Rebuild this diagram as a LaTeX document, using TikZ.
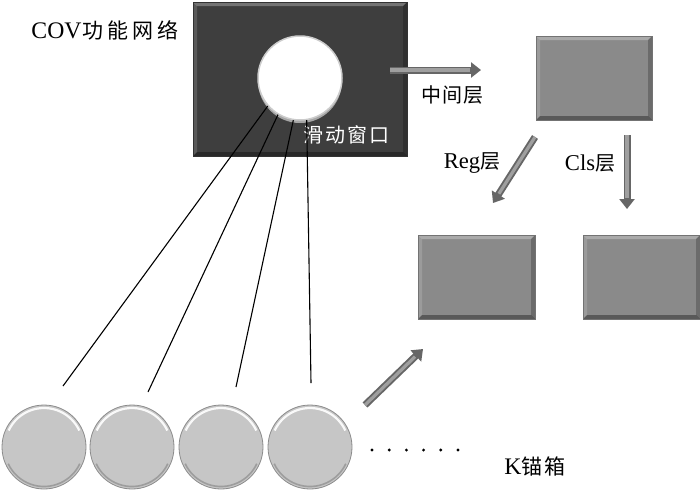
\documentclass[tikz,border=0pt]{standalone}
\usepackage{fontspec}
\setmainfont{Liberation Serif}[Scale=1.13]
\newfontfamily\cjk{Noto Sans CJK SC}
\usetikzlibrary{arrows.meta,shadows,calc}
\definecolor{darkbox}{HTML}{3E3E3E}
\definecolor{midbox}{HTML}{8A8A8A}
\definecolor{ball}{HTML}{C6C6C6}
\definecolor{arrowgray}{HTML}{8E8E8E}
\tikzset{
  bevel/.style={path picture={
    \fill[white,opacity=.28] (path picture bounding box.north west) -- (path picture bounding box.north east)
      -- ([xshift=-4pt,yshift=-4pt]path picture bounding box.north east) -- ([xshift=4pt,yshift=-4pt]path picture bounding box.north west) -- cycle;
    \fill[white,opacity=.15] (path picture bounding box.north west) -- (path picture bounding box.south west)
      -- ([xshift=4pt,yshift=4pt]path picture bounding box.south west) -- ([xshift=4pt,yshift=-4pt]path picture bounding box.north west) -- cycle;
    \fill[black,opacity=.35] (path picture bounding box.south west) -- (path picture bounding box.south east)
      -- ([xshift=-4pt,yshift=4pt]path picture bounding box.south east) -- ([xshift=4pt,yshift=4pt]path picture bounding box.south west) -- cycle;
    \fill[black,opacity=.22] (path picture bounding box.north east) -- (path picture bounding box.south east)
      -- ([xshift=-4pt,yshift=4pt]path picture bounding box.south east) -- ([xshift=-4pt,yshift=-4pt]path picture bounding box.north east) -- cycle;
  }},
  darkrect/.style={rectangle, inner sep=0pt, fill=darkbox, draw=black!80, line width=0.6pt, bevel},
  grayrect/.style={rectangle, inner sep=0pt, fill=midbox, draw=black!55, line width=0.6pt, bevel,
    minimum width=117pt, minimum height=84pt},
  anchorball/.style={circle, inner sep=0pt, minimum size=84pt, fill=ball, draw=black!45, line width=0.8pt,
    path picture={
      \draw[white,line width=2.2pt,opacity=.9] ([shift={(155:39pt)}]path picture bounding box.center) arc[start angle=155,end angle=25,radius=39pt];
      \draw[black!45,line width=1.6pt,opacity=.7] ([shift={(205:39.5pt)}]path picture bounding box.center) arc[start angle=205,end angle=335,radius=39.5pt];
    }},
  window/.style={circle, inner sep=0pt, minimum size=84pt, fill=white, draw=black!20, line width=1.5pt,
    drop shadow={shadow xshift=0pt, shadow yshift=-3pt, fill=black!35, opacity=1}},
  blockarrow/.style={line width=7pt, draw=black!60, -{Triangle[width=15pt,length=10pt]}},
  arrowcore/.style={line width=3.2pt, draw=arrowgray!85!white},
  label/.style={font=\fontsize{20}{22}\selectfont, inner sep=0pt},
  link/.style={line width=1.1pt, black},
  dotmark/.style={circle, fill=black, inner sep=0pt, minimum size=3.2pt},
}
\begin{document}
\begin{tikzpicture}[x=1pt,y=-1pt]
\useasboundingbox (0,0) rectangle (700,491);
\fill[white] (0,0) rectangle (700,491);

% COV feature map with sliding window
\node[darkrect, minimum width=214pt, minimum height=154pt] (cov) at (300,79) {};
\node[window] (win) at (300,78) {};
\node[label, text=white] (winlbl) at (346,135) {\cjk 滑\hspace{2pt}动\hspace{2pt}窗\hspace{2pt}口};
\node[label, font=\fontsize{21}{24}\selectfont] (covlbl) at (105,30) {COV\hspace{1pt}{\cjk 功\hspace{4pt}能\hspace{4pt}网\hspace{4pt}络}};

% layers
\node[grayrect, minimum width=116pt] (mid) at (594,78) {};
\node[grayrect] (reg) at (476.5,277) {};
\node[grayrect] (cls) at (641.5,277) {};

% anchor boxes
\node[anchorball] (b1) at (44,447) {};
\node[anchorball] (b2) at (132,447) {};
\node[anchorball] (b3) at (221,447) {};
\node[anchorball] (b4) at (310,447) {};

% lines from window
\coordinate (e1) at (63,386);
\coordinate (e2) at (148,392);
\coordinate (e3) at (236,387);
\coordinate (e4) at (311,383);
\draw[link] (win.221) -- (e1);
\draw[link] (win.239) -- (e2);
\draw[link] (win.261) -- (e3);
\draw[link] (win.279) -- (e4);

% block arrows
\coordinate (a1s) at (390,70);  \coordinate (a1e) at (481,70);
\coordinate (a2s) at (535,137); \coordinate (a2e) at (493,203);
\coordinate (a3s) at (627,135); \coordinate (a3e) at (627,209);
\coordinate (a4s) at (365,405); \coordinate (a4e) at (423,349);
\foreach \s/\e in {a1s/a1e, a2s/a2e, a3s/a3e, a4s/a4e}{
  \draw[blockarrow] (\s) -- (\e);
  \draw[arrowcore] (\s) -- ($(\e)!11pt!(\s)$);
}

% labels
\node[label] (midlbl) at (452,95) {\cjk 中\hspace{1pt}间\hspace{1pt}层};
\node[label] (reglbl) at (472,163) {Reg{\cjk 层}};
\node[label] (clslbl) at (590,163) {Cls{\cjk 层}};
\node[label, font=\fontsize{21}{23}\selectfont] (klbl) at (535,466) {K{\cjk 锚\hspace{2pt}箱}};

% ellipsis dots
\foreach \i [count=\k] in {372,389.2,406.4,423.6,440.8,458}{
  \node[dotmark] (d\k) at (\i,450) {};
}
\end{tikzpicture}
\end{document}
